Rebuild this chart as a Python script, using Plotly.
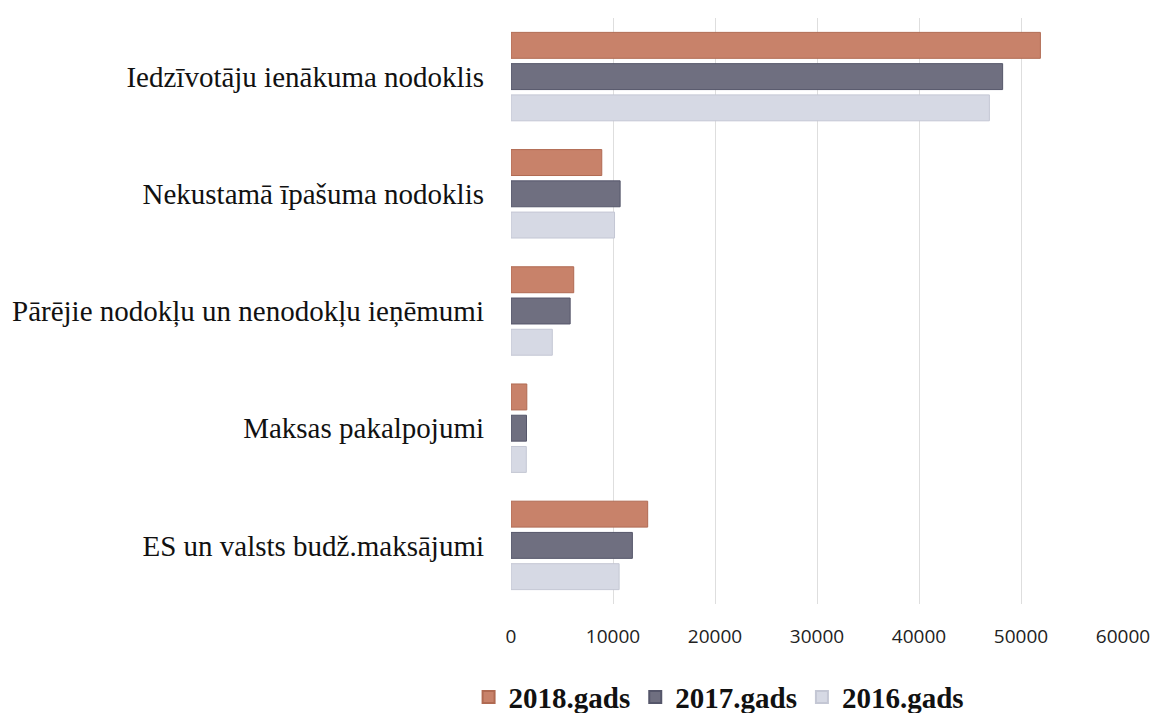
import plotly.graph_objects as go

categories = [
    "Iedzīvotāju ienākuma nodoklis",
    "Nekustamā īpašuma nodoklis",
    "Pārējie nodokļu un nenodokļu ieņēmumi",
    "Maksas pakalpojumi",
    "ES un valsts budž.maksājumi",
]
series_names = ["2018.gads", "2017.gads", "2016.gads"]
values_2018 = [51900, 8900, 6150, 1550, 13400]
values_2017 = [48200, 10700, 5800, 1520, 11900]
values_2016 = [46900, 10150, 4050, 1500, 10600]
tick_vals = [0, 10000, 20000, 30000, 40000, 50000, 60000]

colors = ["#c8826a", "#6f6f80", "#d6d9e4"]
line_colors = ["#b06a52", "#55566a", "#c4c7d4"]

fig = go.Figure()
for name, vals, c, lc in zip(series_names, [values_2018, values_2017, values_2016], colors, line_colors):
    fig.add_trace(go.Bar(
        y=categories, x=vals, name=name, orientation="h",
        marker=dict(color=c, line=dict(color=lc, width=1)),
    ))

fig.update_layout(
    width=1153, height=705,
    barmode="group", bargap=0.2, bargroupgap=0.17,
    paper_bgcolor="white", plot_bgcolor="white",
    margin=dict(l=503, r=38, t=10, b=109, autoexpand=False),
    showlegend=True,
    legend=dict(
        orientation="h", x=0.34, xanchor="center", y=-0.159, yanchor="middle",
        font=dict(family="Liberation Serif", size=29, color="#111111", weight="bold"),
        itemsizing="constant", traceorder="normal", itemwidth=30,
    ),
    xaxis=dict(
        range=[0, 60000], tickvals=tick_vals, ticktext=[str(v) for v in tick_vals],
        showgrid=True, gridcolor="#dedede", gridwidth=1, zeroline=False,
        tickfont=dict(family="Open Sans", size=19, color="#222222"),
        ticks="", ticklabelstandoff=19, showline=False, automargin=False,
    ),
    yaxis=dict(
        autorange="reversed", showgrid=False, zeroline=False,
        tickfont=dict(family="Liberation Serif", size=29, color="#111111"),
        ticks="", ticklabelstandoff=26, showline=False, automargin=False,
    ),
)

fig.write_html("out.html")
